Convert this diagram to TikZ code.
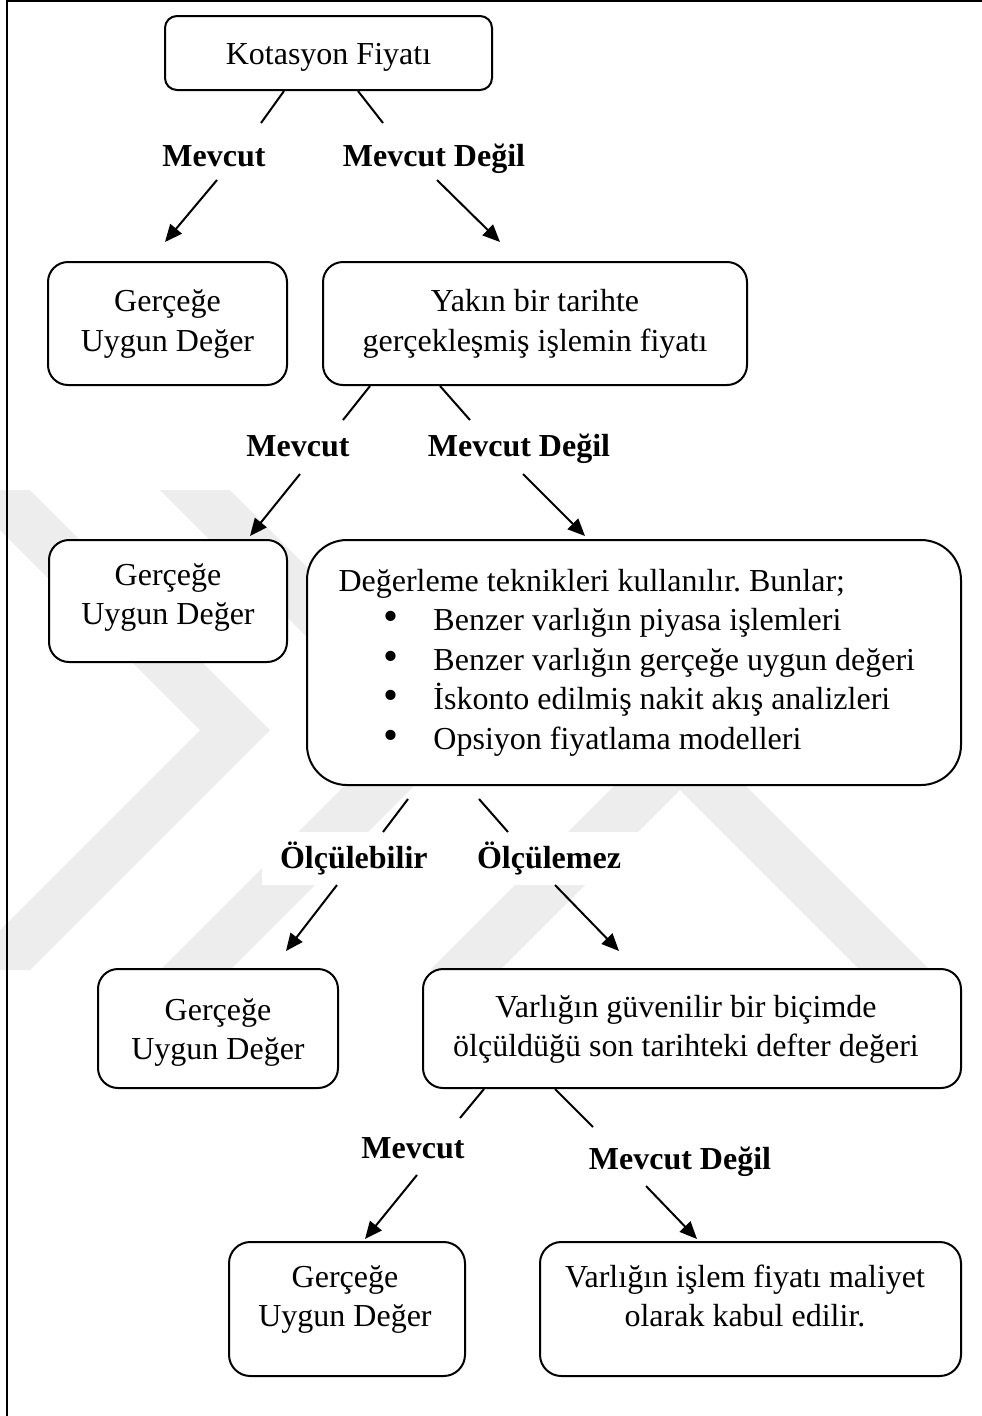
\documentclass[tikz,border=0pt]{standalone}
\usepackage{fontspec}
\setmainfont{Liberation Serif}
\usetikzlibrary{arrows.meta,calc}
\frenchspacing
\newcommand\itembullet{\makebox[35.6pt][l]{\hspace*{17pt}{\fontsize{16}{16}\selectfont\textbullet}}}
\begin{document}
\begin{tikzpicture}[x=0.375pt,y=-0.375pt,
  box/.style={draw, line width=0.75pt, fill=white, inner sep=0pt, rounded corners=#1},
  size/.style 2 args={minimum width=#1*0.375pt, minimum height=#2*0.375pt},
  txt/.style={align=center, font=\fontsize{12}{14.8}\selectfont, inner sep=0pt, anchor=base},
  lbl/.style={font=\fontsize{12}{14.8}\selectfont\bfseries, inner sep=0pt, anchor=base},
  whitelbl/.style={font=\fontsize{12}{14.8}\selectfont\bfseries, fill=white, inner ysep=0pt, align=left},
  link/.style={line width=0.75pt},
  arr/.style={line width=0.75pt, -{Triangle[length=6.5pt,width=5.6pt]}},
  logo/.style={fill=black!7}
]
\useasboundingbox (0,0) rectangle (982,1416);

% faint background emblem: two chevrons and a peak
\begin{scope}
  \clip (0,0) rectangle (982,1416);
  \fill[logo] (30,490) -- (270,730) -- (30,970) -- (-40,970) -- (200,730) -- (-40,490) -- cycle;
  \fill[logo] (230,490) -- (470,730) -- (230,970) -- (160,970) -- (400,730) -- (160,490) -- cycle;
  \fill[logo] (430,970) -- (680,720) -- (930,970) -- (860,970) -- (680,790) -- (500,970) -- cycle;
\end{scope}

% page frame
\draw[line width=0.7pt] (7,1416) -- (7,1.2) -- (982,1.2);

% boxes
\node[box=4.5pt, size={327}{74}]  (b1) at (328.5,53) {};
\node[box=7.5pt, size={239}{123}] (b2) at (167.5,323.5) {};
\node[box=7.5pt, size={424}{123}] (b3) at (535,323.5) {};
\node[box=7.5pt, size={238}{122}] (b4) at (168,601) {};
\node[box=15pt,  size={654}{245}] (b5) at (634,662.5) {};
\node[box=7.5pt, size={240}{119}] (b6) at (218,1028.5) {};
\node[box=7.5pt, size={538}{119}] (b7) at (692,1028.5) {};
\node[box=8pt,   size={236}{134}] (b8) at (347,1309) {};
\node[box=8pt,   size={421}{134}] (b9) at (750.5,1309) {};

% box texts (anchor=base sits on the last line)
\node[txt] (t1) at (328.5,64) {Kotasyon Fiyatı};
\node[txt] (t2) at (167.5,351) {Gerçeğe\\Uygun Değer};
\node[txt] (t3) at (535,351) {Yakın bir tarihte\\gerçekleşmiş işlemin fiyatı};
\node[txt] (t4) at (168,624.5) {Gerçeğe\\Uygun Değer};
\node[txt, anchor=base west, align=left] (t5) at (338,749)
  {Değerleme teknikleri kullanılır. Bunlar;\\
   \itembullet Benzer varlığın piyasa işlemleri\\
   \itembullet Benzer varlığın gerçeğe uygun değeri\\
   \itembullet İskonto edilmiş nakit akış analizleri\\
   \itembullet Opsiyon fiyatlama modelleri};
\node[txt] (t6) at (218,1059.5) {Gerçeğe\\Uygun Değer};
\node[txt] (t7) at (686,1056.5) {Varlığın güvenilir bir biçimde\\ölçüldüğü son tarihteki defter değeri};
\node[txt] (t8) at (345,1326.5) {Gerçeğe\\Uygun Değer};
\node[txt] (t9) at (745,1326.5) {Varlığın işlem fiyatı maliyet\\olarak kabul edilir.};

% branch labels
\node[lbl] (l1a) at (214,166) {Mevcut};
\node[lbl] (l1b) at (434,166) {Mevcut Değil};
\node[lbl] (l2a) at (298,456) {Mevcut};
\node[lbl] (l2b) at (519,456) {Mevcut Değil};
\node[whitelbl, inner xsep=6.75pt, text width=59.6pt, minimum height=19.9pt] (l3a) at (359.5,858.5) {Ölçülebilir};
\node[whitelbl, inner xsep=6.4pt, text width=69.75pt, minimum height=19.9pt] (l3b) at (570,858.5) {Ölçülemez};
\node[lbl] (l4a) at (413,1158) {Mevcut};
\node[lbl] (l4b) at (680,1169) {Mevcut Değil};

% free ends of the connectors next to the labels
\coordinate (q1a) at (261,123);  \coordinate (r1a) at (217,180);
\coordinate (q1b) at (383,123);  \coordinate (r1b) at (437,180);
\coordinate (q2a) at (343,420);  \coordinate (r2a) at (300,474);
\coordinate (q2b) at (470,420);  \coordinate (r2b) at (523,474);
\coordinate (q3a) at (383,832);  \coordinate (r3a) at (337,885);
\coordinate (q3b) at (508,832);  \coordinate (r3b) at (555,885);
\coordinate (q4a) at (460,1118); \coordinate (r4a) at (417,1175);
\coordinate (q4b) at (593,1127); \coordinate (r4b) at (646,1186);

% level 1
\draw[link] ($(b1.south)+(-44.5,0)$) -- (q1a);
\draw[link] ($(b1.south)+(29.5,0)$) -- (q1b);
\draw[arr] (r1a) -- ($(b2.north)+(-2.5,-19)$);
\draw[arr] (r1b) -- ($(b3.north)+(-35,-19)$);

% level 2
\draw[link] ($(b3.south)+(-165,0)$) -- (q2a);
\draw[link] ($(b3.south)+(-95,0)$) -- (q2b);
\draw[arr] (r2a) -- ($(b4.north)+(82,-3)$);
\draw[arr] (r2b) -- ($(b5.north)+(-49,-3)$);

% level 3
\draw[link] ($(b5.south)+(-226,13)$) -- (q3a);
\draw[link] ($(b5.south)+(-155,13)$) -- (q3b);
\draw[arr] (r3a) -- ($(b6.north)+(68,-17)$);
\draw[arr] (r3b) -- ($(b7.north)+(-73,-17)$);

% level 4
\draw[link] ($(b7.south)+(-208,0)$) -- (q4a);
\draw[link] ($(b7.south)+(-137,0)$) -- (q4b);
\draw[arr] (r4a) -- ($(b8.north)+(18,-2)$);
\draw[arr] (r4b) -- ($(b9.north)+(-53.5,-2)$);
\end{tikzpicture}
\end{document}
